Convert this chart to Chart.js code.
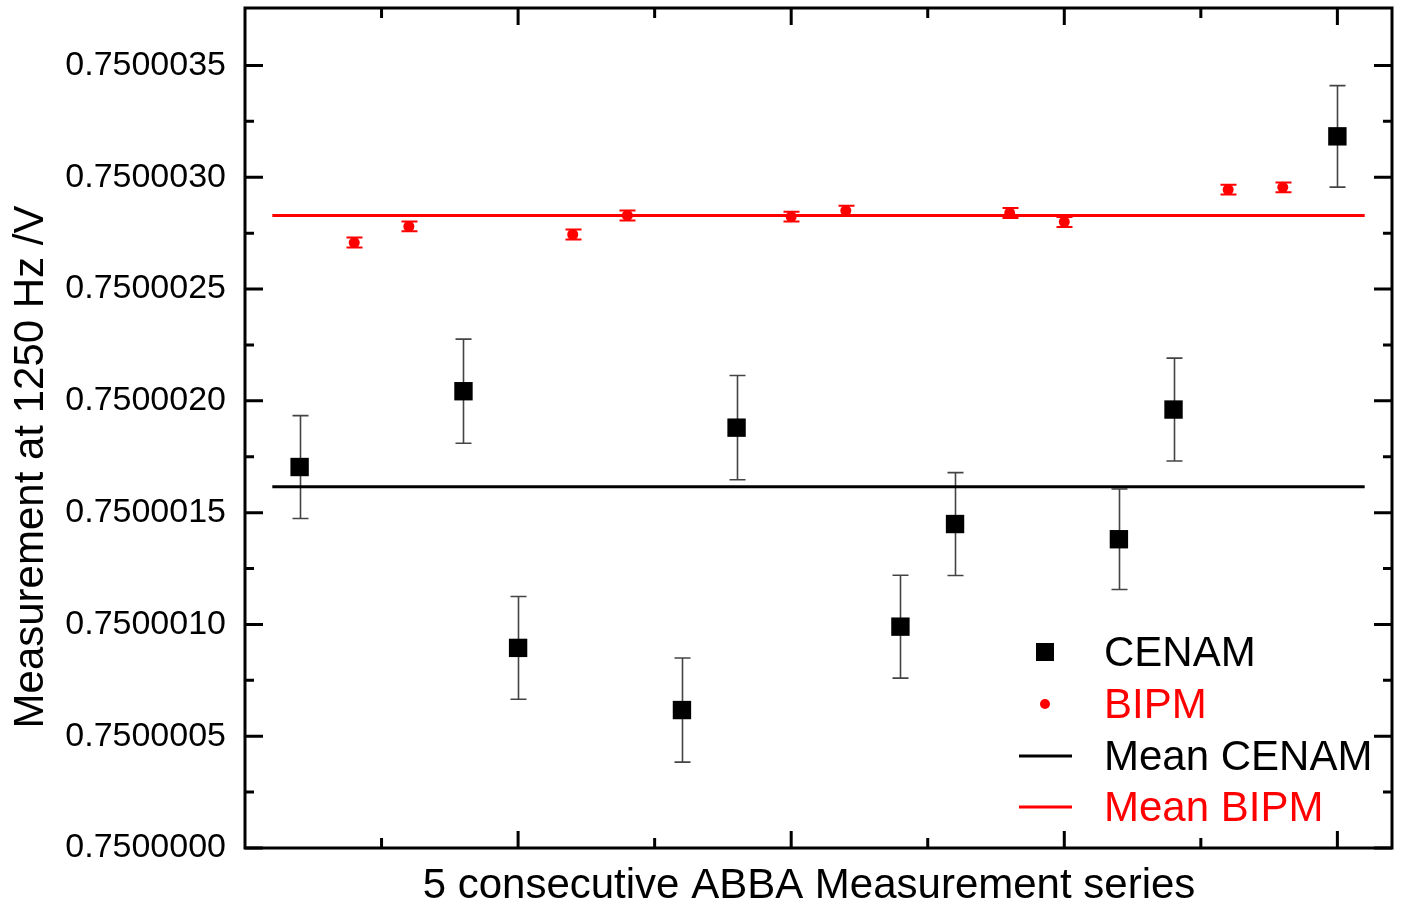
<!DOCTYPE html>
<html>
<head>
<meta charset="utf-8">
<script src="https://cdn.jsdelivr.net/npm/chart.js@4.4.1/dist/chart.umd.min.js"></script>
<style>
  html, body { margin: 0; padding: 0; background: #fff; }
  #wrap { width: 1403px; height: 908px; }
</style>
</head>
<body>
<div id="wrap"><canvas id="chart"></canvas></div>
<script>
// measurement index (ABBA order) and values
const cenamX = [1, 4, 5, 8, 9, 12, 13, 16, 17, 20];
const cenamValues = [0.750001704, 0.750002043, 0.750000895, 0.750000617, 0.750001880,
                     0.750000990, 0.750001449, 0.750001381, 0.750001961, 0.750003183];
const cenamErrors = [2.30e-7, 2.33e-7, 2.30e-7, 2.33e-7, 2.33e-7,
                     2.30e-7, 2.30e-7, 2.25e-7, 2.30e-7, 2.27e-7];

const bipmX = [2, 3, 6, 7, 10, 11, 14, 15, 18, 19];
const bipmValues = [0.750002708, 0.750002780, 0.750002744, 0.750002829, 0.750002824,
                    0.750002851, 0.750002840, 0.750002800, 0.750002945, 0.750002955];
const bipmErrors = [0.22e-7, 0.22e-7, 0.22e-7, 0.22e-7, 0.22e-7,
                    0.22e-7, 0.22e-7, 0.22e-7, 0.22e-7, 0.22e-7];

const meanCenam = 0.750001616;
const meanBipm = 0.750002829;
const meanRange = [0.5, 20.5];

const yTicks = [0.75, 0.7500005, 0.750001, 0.7500015, 0.750002, 0.7500025, 0.750003, 0.7500035];
const yTickLabels = ['0.7500000', '0.7500005', '0.7500010', '0.7500015',
                     '0.7500020', '0.7500025', '0.7500030', '0.7500035'];
const xMajorTicks = [5, 10, 15, 20];
const xMinorTicks = [2.5, 7.5, 12.5, 17.5];

const xTitle = '5 consecutive ABBA Measurement series';
const yTitle = 'Measurement at 1250 Hz /V';

const FONT = "'Liberation Sans', Arial, sans-serif";
const RED = '#ff0000';

const errorBars = {
    id: 'errorBars',
    beforeDatasetsDraw(chart) {
        const { ctx, scales: { x, y } } = chart;
        function bars(xs, vals, errs, color, width) {
            ctx.strokeStyle = color;
            ctx.lineWidth = width;
            ctx.beginPath();
            xs.forEach(function (xv, i) {
                const px = Math.round(x.getPixelForValue(xv)) + 0.5;
                const top = y.getPixelForValue(vals[i] + errs[i]);
                const bot = y.getPixelForValue(vals[i] - errs[i]);
                ctx.moveTo(px, top); ctx.lineTo(px, bot);
                ctx.moveTo(px - 8, top); ctx.lineTo(px + 8, top);
                ctx.moveTo(px - 8, bot); ctx.lineTo(px + 8, bot);
            });
            ctx.stroke();
        }
        ctx.save();
        bars(cenamX, cenamValues, cenamErrors, '#444', 1.6);
        bars(bipmX, bipmValues, bipmErrors, RED, 2);
        ctx.restore();
    }
};

const frame = {
    id: 'frame',
    afterDraw(chart) {
        const { ctx, chartArea: a, scales: { x, y } } = chart;
        ctx.save();
        ctx.strokeStyle = '#000';
        ctx.lineWidth = 3;
        ctx.strokeRect(a.left, a.top, a.right - a.left, a.bottom - a.top);
        ctx.beginPath();
        function xt(v, len) {
            const px = x.getPixelForValue(v);
            ctx.moveTo(px, a.bottom); ctx.lineTo(px, a.bottom - len);
            ctx.moveTo(px, a.top); ctx.lineTo(px, a.top + len);
        }
        function yt(v, len) {
            const py = y.getPixelForValue(v);
            ctx.moveTo(a.left, py); ctx.lineTo(a.left + len, py);
            ctx.moveTo(a.right, py); ctx.lineTo(a.right - len, py);
        }
        xMajorTicks.forEach(v => xt(v, 17));
        xMinorTicks.forEach(v => xt(v, 10));
        yTicks.forEach((v, i) => {
            yt(v, 18);
            if (i < yTicks.length - 1) yt((v + yTicks[i + 1]) / 2, 9);
        });
        ctx.stroke();

        // axis titles
        ctx.fillStyle = '#000';
        ctx.font = '42px ' + FONT;
        ctx.textAlign = 'center';
        ctx.textBaseline = 'middle';
        ctx.fillText(xTitle, 809, a.bottom + 38);
        ctx.save();
        ctx.translate(31, 467);
        ctx.rotate(-Math.PI / 2);
        ctx.fillText(yTitle, 0, 0);
        ctx.restore();

        // legend
        const mx = a.right - 347, tx = a.right - 288;
        const rows = [a.bottom - 196, a.bottom - 144, a.bottom - 92, a.bottom - 41];
        ctx.font = '42px ' + FONT;
        ctx.textBaseline = 'middle';
        ctx.textAlign = 'left';
        ctx.fillStyle = '#000';
        ctx.fillRect(mx - 9, rows[0] - 9, 18, 18);
        ctx.fillText('CENAM', tx, rows[0] + 2);
        ctx.fillStyle = RED;
        ctx.beginPath();
        ctx.arc(mx, rows[1], 5, 0, Math.PI * 2);
        ctx.fill();
        ctx.fillText('BIPM', tx, rows[1] + 2);
        ctx.lineWidth = 3;
        ctx.strokeStyle = '#000';
        ctx.beginPath(); ctx.moveTo(mx - 26, rows[2]); ctx.lineTo(mx + 27, rows[2]); ctx.stroke();
        ctx.fillStyle = '#000';
        ctx.fillText('Mean CENAM', tx, rows[2] + 2);
        ctx.strokeStyle = RED;
        ctx.beginPath(); ctx.moveTo(mx - 26, rows[3]); ctx.lineTo(mx + 27, rows[3]); ctx.stroke();
        ctx.fillStyle = RED;
        ctx.fillText('Mean BIPM', tx, rows[3] + 2);
        ctx.restore();
    }
};

const ctx = document.getElementById('chart').getContext('2d');

new Chart(ctx, {
    type: 'scatter',
    data: {
        datasets: [{
            label: 'CENAM',
            data: cenamX.map((v, i) => ({ x: v, y: cenamValues[i] })),
            pointStyle: 'rect',
            pointRadius: 13,
            pointBorderWidth: 0,
            backgroundColor: '#000',
            borderColor: '#000'
        }, {
            label: 'BIPM',
            data: bipmX.map((v, i) => ({ x: v, y: bipmValues[i] })),
            pointStyle: 'circle',
            pointRadius: 5.5,
            pointBorderWidth: 0,
            backgroundColor: RED,
            borderColor: RED
        }, {
            label: 'Mean CENAM',
            data: meanRange.map(v => ({ x: v, y: meanCenam })),
            showLine: true,
            pointRadius: 0,
            borderColor: '#000',
            borderWidth: 3
        }, {
            label: 'Mean BIPM',
            data: meanRange.map(v => ({ x: v, y: meanBipm })),
            showLine: true,
            pointRadius: 0,
            borderColor: RED,
            borderWidth: 3
        }]
    },
    options: {
        responsive: true,
        maintainAspectRatio: false,
        animation: false,
        layout: {
            autoPadding: false,
            padding: { top: 8, right: 11, left: 0, bottom: 0 }
        },
        plugins: {
            legend: { display: false },
            tooltip: { enabled: false }
        },
        scales: {
            x: {
                type: 'linear',
                min: 0,
                max: 21,
                grid: { display: false, drawTicks: false },
                border: { display: false },
                ticks: { display: false },
                afterFit: function (scale) {
                    scale.height = 60;
                    scale.paddingLeft = 0;
                    scale.paddingRight = 0;
                }
            },
            y: {
                type: 'linear',
                min: 0.75,
                max: 0.750003757,
                grid: { display: false, drawTicks: false },
                border: { display: false },
                afterBuildTicks: function (scale) {
                    scale.ticks = yTicks.map(v => ({ value: v }));
                },
                ticks: {
                    padding: 19,
                    color: '#000',
                    font: { family: FONT, size: 34 },
                    callback: function (value, index) { return yTickLabels[index]; }
                },
                afterFit: function (scale) {
                    scale.width = 245;
                    scale.paddingTop = 0;
                    scale.paddingBottom = 0;
                }
            }
        }
    },
    plugins: [errorBars, frame]
});
</script>
</body>
</html>
